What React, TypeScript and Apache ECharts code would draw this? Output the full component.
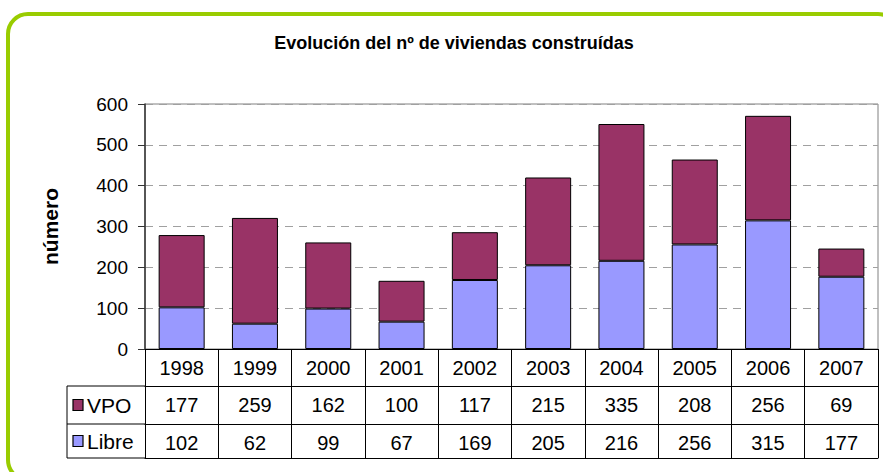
import React, { useEffect, useRef } from "react";
import * as echarts from "echarts";

const years = ["1998", "1999", "2000", "2001", "2002", "2003", "2004", "2005", "2006", "2007"];
const vpo = [177, 259, 162, 100, 117, 215, 335, 208, 256, 69];
const libre = [102, 62, 99, 67, 169, 205, 216, 256, 315, 177];
const yTicks = { min: 0, max: 600, interval: 100 };

const FONT = "'Liberation Sans', Arial, sans-serif";
const VPO_COLOR = "#993366";
const LIBRE_COLOR = "#9999ff";

export default function App() {
  const ref = useRef<HTMLDivElement>(null);
  useEffect(() => {
    if (!ref.current) return;
    const chart = echarts.init(ref.current, undefined, { renderer: "svg" });
    const gl = 145, gt = 104, gr = 5, gb = 123;
    const rowTops = [0, 37, 75, 109];
    const tableAxis = (data: string[], i: number, showLabel = true, showTick = true) => ({
      type: "category",
      data,
      gridIndex: 0,
      position: "bottom",
      offset: rowTops[i],
      boundaryGap: true,
      axisLine: { show: true, lineStyle: { color: "#000", width: 1 } },
      axisTick: {
        show: showTick,
        length: i < 3 ? rowTops[i + 1] - rowTops[i] : 0,
        lineStyle: { color: "#000", width: 1 },
      },
      axisLabel: { show: showLabel, interval: 0, margin: 9, fontSize: 20, color: "#000", fontFamily: FONT },
      splitLine: { show: false },
    });
    const yBase = 472 - gb;
    const legendRow = (label: string, color: string, y: number) => [
      {
        type: "rect",
        shape: { x: 73, y: y - 5.5, width: 10, height: 11 },
        style: { fill: color, stroke: "#000", lineWidth: 1.2 },
      },
      {
        type: "text",
        x: 87,
        y,
        style: { text: label, fontSize: 21, fontFamily: FONT, fill: "#000", verticalAlign: "middle" },
      },
    ];
    chart.setOption({
      animation: false,
      grid: { left: gl, top: gt, right: gr, bottom: gb, show: true, borderColor: "#808080", borderWidth: 1 },
      title: {
        text: "Evolución del nº de viviendas construídas",
        left: 449,
        top: 29,
        textAlign: "center",
        textStyle: { fontSize: 18, fontWeight: "bold", fontFamily: FONT, color: "#000" },
      },
      xAxis: [
        tableAxis(years, 0),
        tableAxis(vpo.map(String), 1),
        tableAxis(libre.map(String), 2),
        tableAxis(years.map(() => ""), 3, false, false),
      ],
      yAxis: {
        type: "value",
        min: yTicks.min,
        max: yTicks.max,
        interval: yTicks.interval,
        name: "número",
        nameLocation: "middle",
        nameGap: 84,
        nameTextStyle: { fontSize: 21, fontWeight: "bold", fontFamily: FONT, color: "#000" },
        axisLine: { show: true, lineStyle: { color: "#333", width: 1.5 } },
        axisTick: { show: true, length: 7, lineStyle: { color: "#333" } },
        axisLabel: { margin: 17, fontSize: 19, color: "#000", fontFamily: FONT },
        splitLine: { show: true, lineStyle: { color: "#a0a0a0", type: [8, 6], width: 1 } },
      },
      series: [
        {
          name: "Libre",
          type: "bar",
          stack: "total",
          data: libre,
          barWidth: 46,
          itemStyle: { color: LIBRE_COLOR, borderColor: "#000", borderWidth: 1 },
        },
        {
          name: "VPO",
          type: "bar",
          stack: "total",
          data: vpo,
          barWidth: 46,
          itemStyle: { color: VPO_COLOR, borderColor: "#000", borderWidth: 1 },
        },
      ],
      graphic: [
        {
          type: "rect",
          shape: { x: 8, y: 14, width: 890, height: 466, r: 20 },
          style: { fill: "none", stroke: "#99cc00", lineWidth: 4 },
          silent: true,
        },
        {
          type: "polyline",
          shape: {
            points: [
              [gl, yBase + rowTops[1]],
              [67, yBase + rowTops[1]],
              [67, yBase + rowTops[3]],
              [gl, yBase + rowTops[3]],
            ],
          },
          style: { fill: "none", stroke: "#000", lineWidth: 1 },
        },
        {
          type: "line",
          shape: { x1: 67, y1: yBase + rowTops[2], x2: gl, y2: yBase + rowTops[2] },
          style: { stroke: "#000", lineWidth: 1 },
        },
        ...legendRow("VPO", VPO_COLOR, yBase + (rowTops[1] + rowTops[2]) / 2),
        ...legendRow("Libre", LIBRE_COLOR, yBase + (rowTops[2] + rowTops[3]) / 2),
      ],
    });
    return () => chart.dispose();
  }, []);
  return (
    <div
      ref={ref}
      style={{ position: "fixed", left: 0, top: 0, width: 883, height: 472, background: "#fff" }}
    />
  );
}
